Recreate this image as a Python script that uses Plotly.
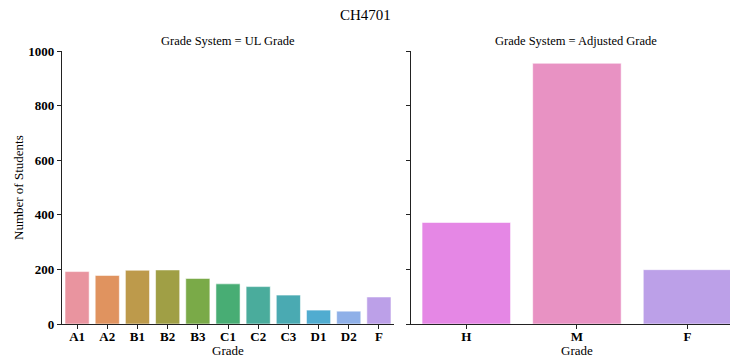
import plotly.graph_objects as go

title = "CH4701"
ul_grades = ["A1", "A2", "B1", "B2", "B3", "C1", "C2", "C3", "D1", "D2", "F"]
ul_counts = [192, 178, 197, 198, 167, 147, 137, 106, 51, 47, 99]
ul_colors = ["#e9949f", "#e0935f", "#bd9a4b", "#a09f45", "#7aaa48", "#48ad74",
             "#4aac9c", "#4aaab2", "#50acd0", "#8fb0e8", "#bca0e8"]

adj_grades = ["H", "M", "F"]
adj_counts = [372, 955, 199]
adj_colors = ["#e587e5", "#e892c3", "#bca0e8"]

y_ticks = [0, 200, 400, 600, 800, 1000]

FONT = "Liberation Serif"

W, H = 730, 360
ML, MR, MT, MB = 62, 0, 51, 36
PW, PH = W - ML - MR, H - MT - MB


def px_x(px):
    return (px - ML) / PW


def px_y(py):
    return (H - MB - py) / PH


fig = go.Figure()
fig.add_trace(go.Bar(x=ul_grades, y=ul_counts, width=0.8,
                     marker=dict(color=ul_colors, line=dict(color="rgba(255,255,255,0.55)", width=1)),
                     xaxis="x", yaxis="y", showlegend=False))
fig.add_trace(go.Bar(x=adj_grades, y=adj_counts, width=0.8,
                     marker=dict(color=adj_colors, line=dict(color="rgba(255,255,255,0.55)", width=1)),
                     xaxis="x2", yaxis="y2", showlegend=False))

axis_common = dict(showgrid=False, zeroline=False, showline=True, linecolor="#222",
                   linewidth=1.2, ticks="outside", ticklen=4, tickwidth=1, tickcolor="#222",
                   automargin=False)
tickfont = dict(family=FONT, size=13, weight="bold", color="black")

fig.update_layout(
    width=W, height=H,
    margin=dict(l=ML, r=MR, t=MT, b=MB, autoexpand=False),
    paper_bgcolor="white", plot_bgcolor="white",
    font=dict(family=FONT, color="black", size=13),
    bargap=0.2,
    xaxis=dict(domain=[0, px_x(394)], type="category", range=[-0.5, 10.5],
               tickfont=tickfont, anchor="y", ticklabelstandoff=-4, **axis_common),
    yaxis=dict(range=[0, 1000], tickvals=y_ticks, tickfont=tickfont,
               anchor="x", **axis_common),
    xaxis2=dict(domain=[px_x(411), 1], type="category", range=[-0.5, 2.384],
                tickfont=tickfont, anchor="y2", ticklabelstandoff=-4, **axis_common),
    yaxis2=dict(range=[0, 1000], tickvals=y_ticks, showticklabels=False,
                anchor="x2", matches="y", **axis_common),
    annotations=[
        dict(text=title, x=px_x(365), y=px_y(15), xref="paper", yref="paper",
             showarrow=False, font=dict(size=15, family=FONT), xanchor="center", yanchor="middle"),
        dict(text="Grade System = UL Grade", x=px_x(228), y=px_y(41), xref="paper", yref="paper",
             showarrow=False, font=dict(size=12.5, family=FONT), xanchor="center", yanchor="middle"),
        dict(text="Grade System = Adjusted Grade", x=px_x(576), y=px_y(41), xref="paper", yref="paper",
             showarrow=False, font=dict(size=12.5, family=FONT), xanchor="center", yanchor="middle"),
        dict(text="Grade", x=px_x(228), y=px_y(350), xref="paper", yref="paper",
             showarrow=False, font=dict(size=13, family=FONT), xanchor="center", yanchor="middle"),
        dict(text="Grade", x=px_x(577), y=px_y(350), xref="paper", yref="paper",
             showarrow=False, font=dict(size=13, family=FONT), xanchor="center", yanchor="middle"),
        dict(text="Number of Students", x=px_x(18), y=px_y(187), xref="paper", yref="paper",
             showarrow=False, font=dict(size=13, family=FONT), textangle=-90,
             xanchor="center", yanchor="middle"),
    ],
)

fig.write_html("out.html", config={"displayModeBar": False},
               post_script="document.body.style.margin='0';document.body.style.overflow='hidden';")
